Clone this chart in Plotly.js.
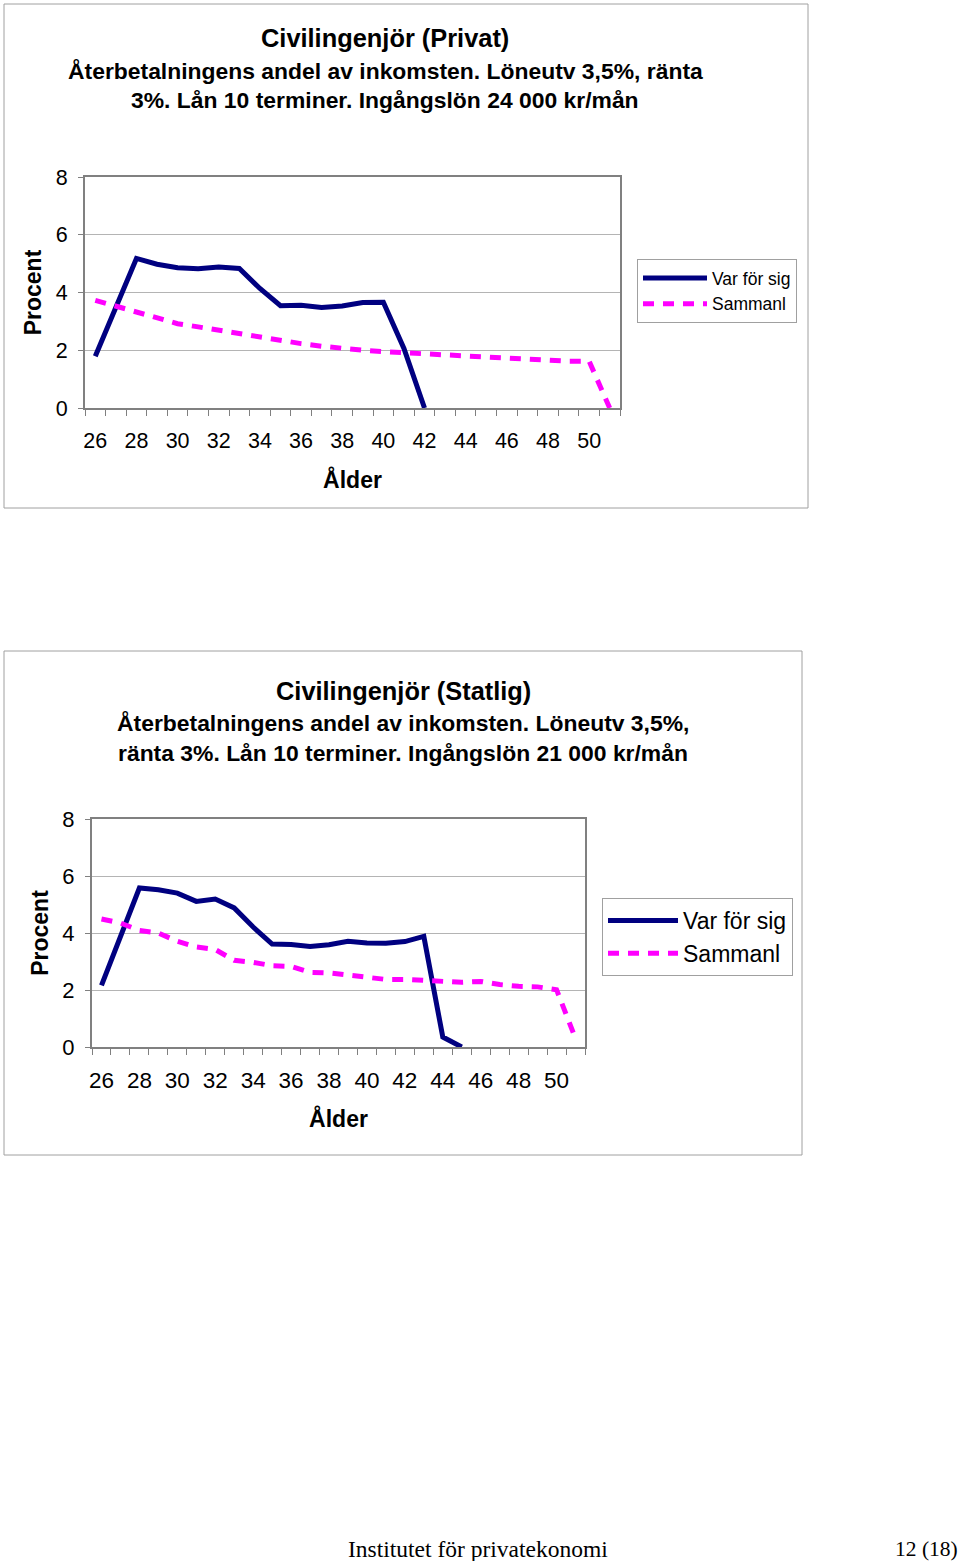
<!DOCTYPE html>
<html>
<head>
<meta charset="utf-8">
<script src="https://cdn.plot.ly/plotly-3.0.1.min.js"></script>
<style>html,body{margin:0;padding:0;background:#fff;}#chart{width:960px;height:1561px;}</style>
</head>
<body>
<div id="chart"></div>
<script>
// ---- data ----
const ages = [26,27,28,29,30,31,32,33,34,35,36,37,38,39,40,41,42,43,44,45,46,47,48,49,50,51];
const tickAges = [26,28,30,32,34,36,38,40,42,44,46,48,50];
const privatVar = [1.79,3.5,5.18,4.98,4.86,4.82,4.88,4.83,4.14,3.54,3.56,3.48,3.53,3.65,3.66,2.06,0,null,null,null,null,null,null,null,null,null];
const privatSam = [3.73,3.53,3.33,3.10,2.92,2.81,2.69,2.55,2.44,2.32,2.23,2.14,2.06,2.00,1.95,1.91,1.86,1.83,1.79,1.75,1.71,1.68,1.65,1.62,1.62,0];
const statligVar = [2.16,3.88,5.58,5.52,5.40,5.11,5.19,4.88,4.21,3.61,3.60,3.53,3.59,3.71,3.65,3.64,3.70,3.88,0.35,0,null,null,null,null,null,null];
const statligSam = [4.49,4.35,4.09,4.00,3.71,3.51,3.42,3.04,2.97,2.85,2.83,2.62,2.60,2.53,2.46,2.37,2.37,2.34,2.27,2.27,2.30,2.19,2.13,2.11,2.01,0.3];
const seriesNames = ['Var för sig', 'Sammanl'];
const titlesPrivat = ['Civilingenjör (Privat)', 'Återbetalningens andel av inkomsten. Löneutv 3,5%, ränta', '3%. Lån 10 terminer. Ingångslön 24 000 kr/mån'];
const titlesStatlig = ['Civilingenjör (Statlig)', 'Återbetalningens andel av inkomsten. Löneutv 3,5%,', 'ränta 3%. Lån 10 terminer. Ingångslön 21 000 kr/mån'];
const xTitle = 'Ålder';
const yTitle = 'Procent';

// ---- helpers ----
const W = 960, H = 1561;
const px = v => v / W;
const py = v => 1 - v / H;
const FONT = 'Arial, "Liberation Sans", sans-serif';
const SERIF = '"Liberation Serif", "DejaVu Serif", serif';
const NAVY = '#000080', PINK = '#ff00ff';
const boundaries = ages.map(a => a - 0.5).concat([ages[ages.length - 1] + 0.5]);

function xAxis(domain, anchor, fs, standoff) {
  return {
    domain: domain, anchor: anchor, range: [ages[0] - 0.5, ages[ages.length - 1] + 0.5],
    tickmode: 'array', tickvals: tickAges, ticktext: tickAges.map(String),
    ticks: '', showgrid: false, zeroline: false,
    showline: true, linecolor: '#808080', linewidth: 2, mirror: true,
    tickfont: {family: FONT, size: fs, color: '#000'},
    ticklabelstandoff: 12,
    minor: {tickmode: 'array', tickvals: boundaries, ticks: 'outside', ticklen: 6, tickcolor: '#808080', tickwidth: 1, showgrid: false},
    title: {text: xTitle, font: {family: FONT, size: 23, weight: 'bold', color: '#000'}, standoff: standoff},
    fixedrange: true
  };
}
function yAxis(domain, anchor, fs, standoff) {
  return {
    domain: domain, anchor: anchor, range: [0, 8], tickmode: 'array', tickvals: [0,2,4,6,8],
    ticks: 'outside', ticklen: 5, tickcolor: '#808080', tickwidth: 1,
    showgrid: true, gridcolor: '#b4b4b4', gridwidth: 1, zeroline: false,
    showline: true, linecolor: '#808080', linewidth: 2, mirror: true,
    tickfont: {family: FONT, size: fs, color: '#000'},
    ticklabelstandoff: 6,
    title: {text: yTitle, font: {family: FONT, size: 23, weight: 'bold', color: '#000'}, standoff: standoff},
    fixedrange: true
  };
}

const traces = [
  {x: ages, y: privatVar, name: seriesNames[0], type: 'scatter', mode: 'lines', xaxis: 'x', yaxis: 'y',
   line: {color: NAVY, width: 5}, legend: 'legend', legendgroup: 'a1', connectgaps: false},
  {x: ages, y: privatSam, name: seriesNames[1], type: 'scatter', mode: 'lines', xaxis: 'x', yaxis: 'y',
   line: {color: PINK, width: 5, dash: '11px,9px'}, legend: 'legend', legendgroup: 'b1'},
  {x: ages, y: statligVar, name: seriesNames[0], type: 'scatter', mode: 'lines', xaxis: 'x2', yaxis: 'y2',
   line: {color: NAVY, width: 5}, legend: 'legend2', legendgroup: 'a2', connectgaps: false},
  {x: ages, y: statligSam, name: seriesNames[1], type: 'scatter', mode: 'lines', xaxis: 'x2', yaxis: 'y2',
   line: {color: PINK, width: 5, dash: '11px,9px'}, legend: 'legend2', legendgroup: 'b2'}
];

function titleAnns(lines, cx, ys) {
  return lines.map((t, i) => ({
    text: t, xref: 'paper', yref: 'paper', x: px(cx), y: py(ys[i]), xanchor: 'center', yanchor: 'middle',
    showarrow: false, font: {family: FONT, size: i === 0 ? 25.4 : 22.9, weight: 'bold', color: '#000'}
  }));
}

const annotations = []
  .concat(titleAnns(titlesPrivat, 385, [38, 71, 100]))
  .concat(titleAnns(titlesStatlig, 403, [691, 723, 753]))
  .concat([
    {text: 'Institutet för privatekonomi', xref: 'paper', yref: 'paper', x: px(478), y: py(1549), xanchor: 'center', yanchor: 'middle',
     showarrow: false, font: {family: SERIF, size: 23.5, color: '#000'}},
    {text: '12 (18)', xref: 'paper', yref: 'paper', x: px(960), y: py(1549), xanchor: 'right', yanchor: 'middle',
     showarrow: false, font: {family: SERIF, size: 21.5, color: '#000'}}
  ]);

const shapes = [
  {type: 'rect', xref: 'paper', yref: 'paper', x0: px(4), x1: px(808), y0: py(508), y1: py(4), line: {color: '#a0a0a0', width: 1}},
  {type: 'rect', xref: 'paper', yref: 'paper', x0: px(4), x1: px(802), y0: py(1155), y1: py(651), line: {color: '#a0a0a0', width: 1}}
];

const layout = {
  width: W, height: H, margin: {l: 0, r: 0, t: 0, b: 0},
  paper_bgcolor: '#fff', plot_bgcolor: '#fff',
  font: {family: FONT, color: '#000'},
  showlegend: true,
  xaxis: xAxis([px(85), px(620)], 'y', 21.5, 20),
  yaxis: yAxis([py(408), py(177)], 'x', 21.5, 8),
  xaxis2: xAxis([px(92), px(585)], 'y2', 22.5, 19),
  yaxis2: yAxis([py(1047), py(819)], 'x2', 22, 7),
  legend: {x: px(637), y: py(259), xanchor: 'left', yanchor: 'top', bgcolor: '#fff', bordercolor: '#a0a0a0', borderwidth: 1,
           font: {family: FONT, size: 17.5, color: '#000'}, itemwidth: 64, tracegroupgap: 3, traceorder: 'normal'},
  legend2: {x: px(602), y: py(898), xanchor: 'left', yanchor: 'top', bgcolor: '#fff', bordercolor: '#a0a0a0', borderwidth: 1,
           font: {family: FONT, size: 23, color: '#000'}, itemwidth: 70, tracegroupgap: 2, traceorder: 'normal'},
  annotations: annotations,
  shapes: shapes
};

Plotly.newPlot('chart', traces, layout, {displayModeBar: false, staticPlot: true});
</script>
</body>
</html>
